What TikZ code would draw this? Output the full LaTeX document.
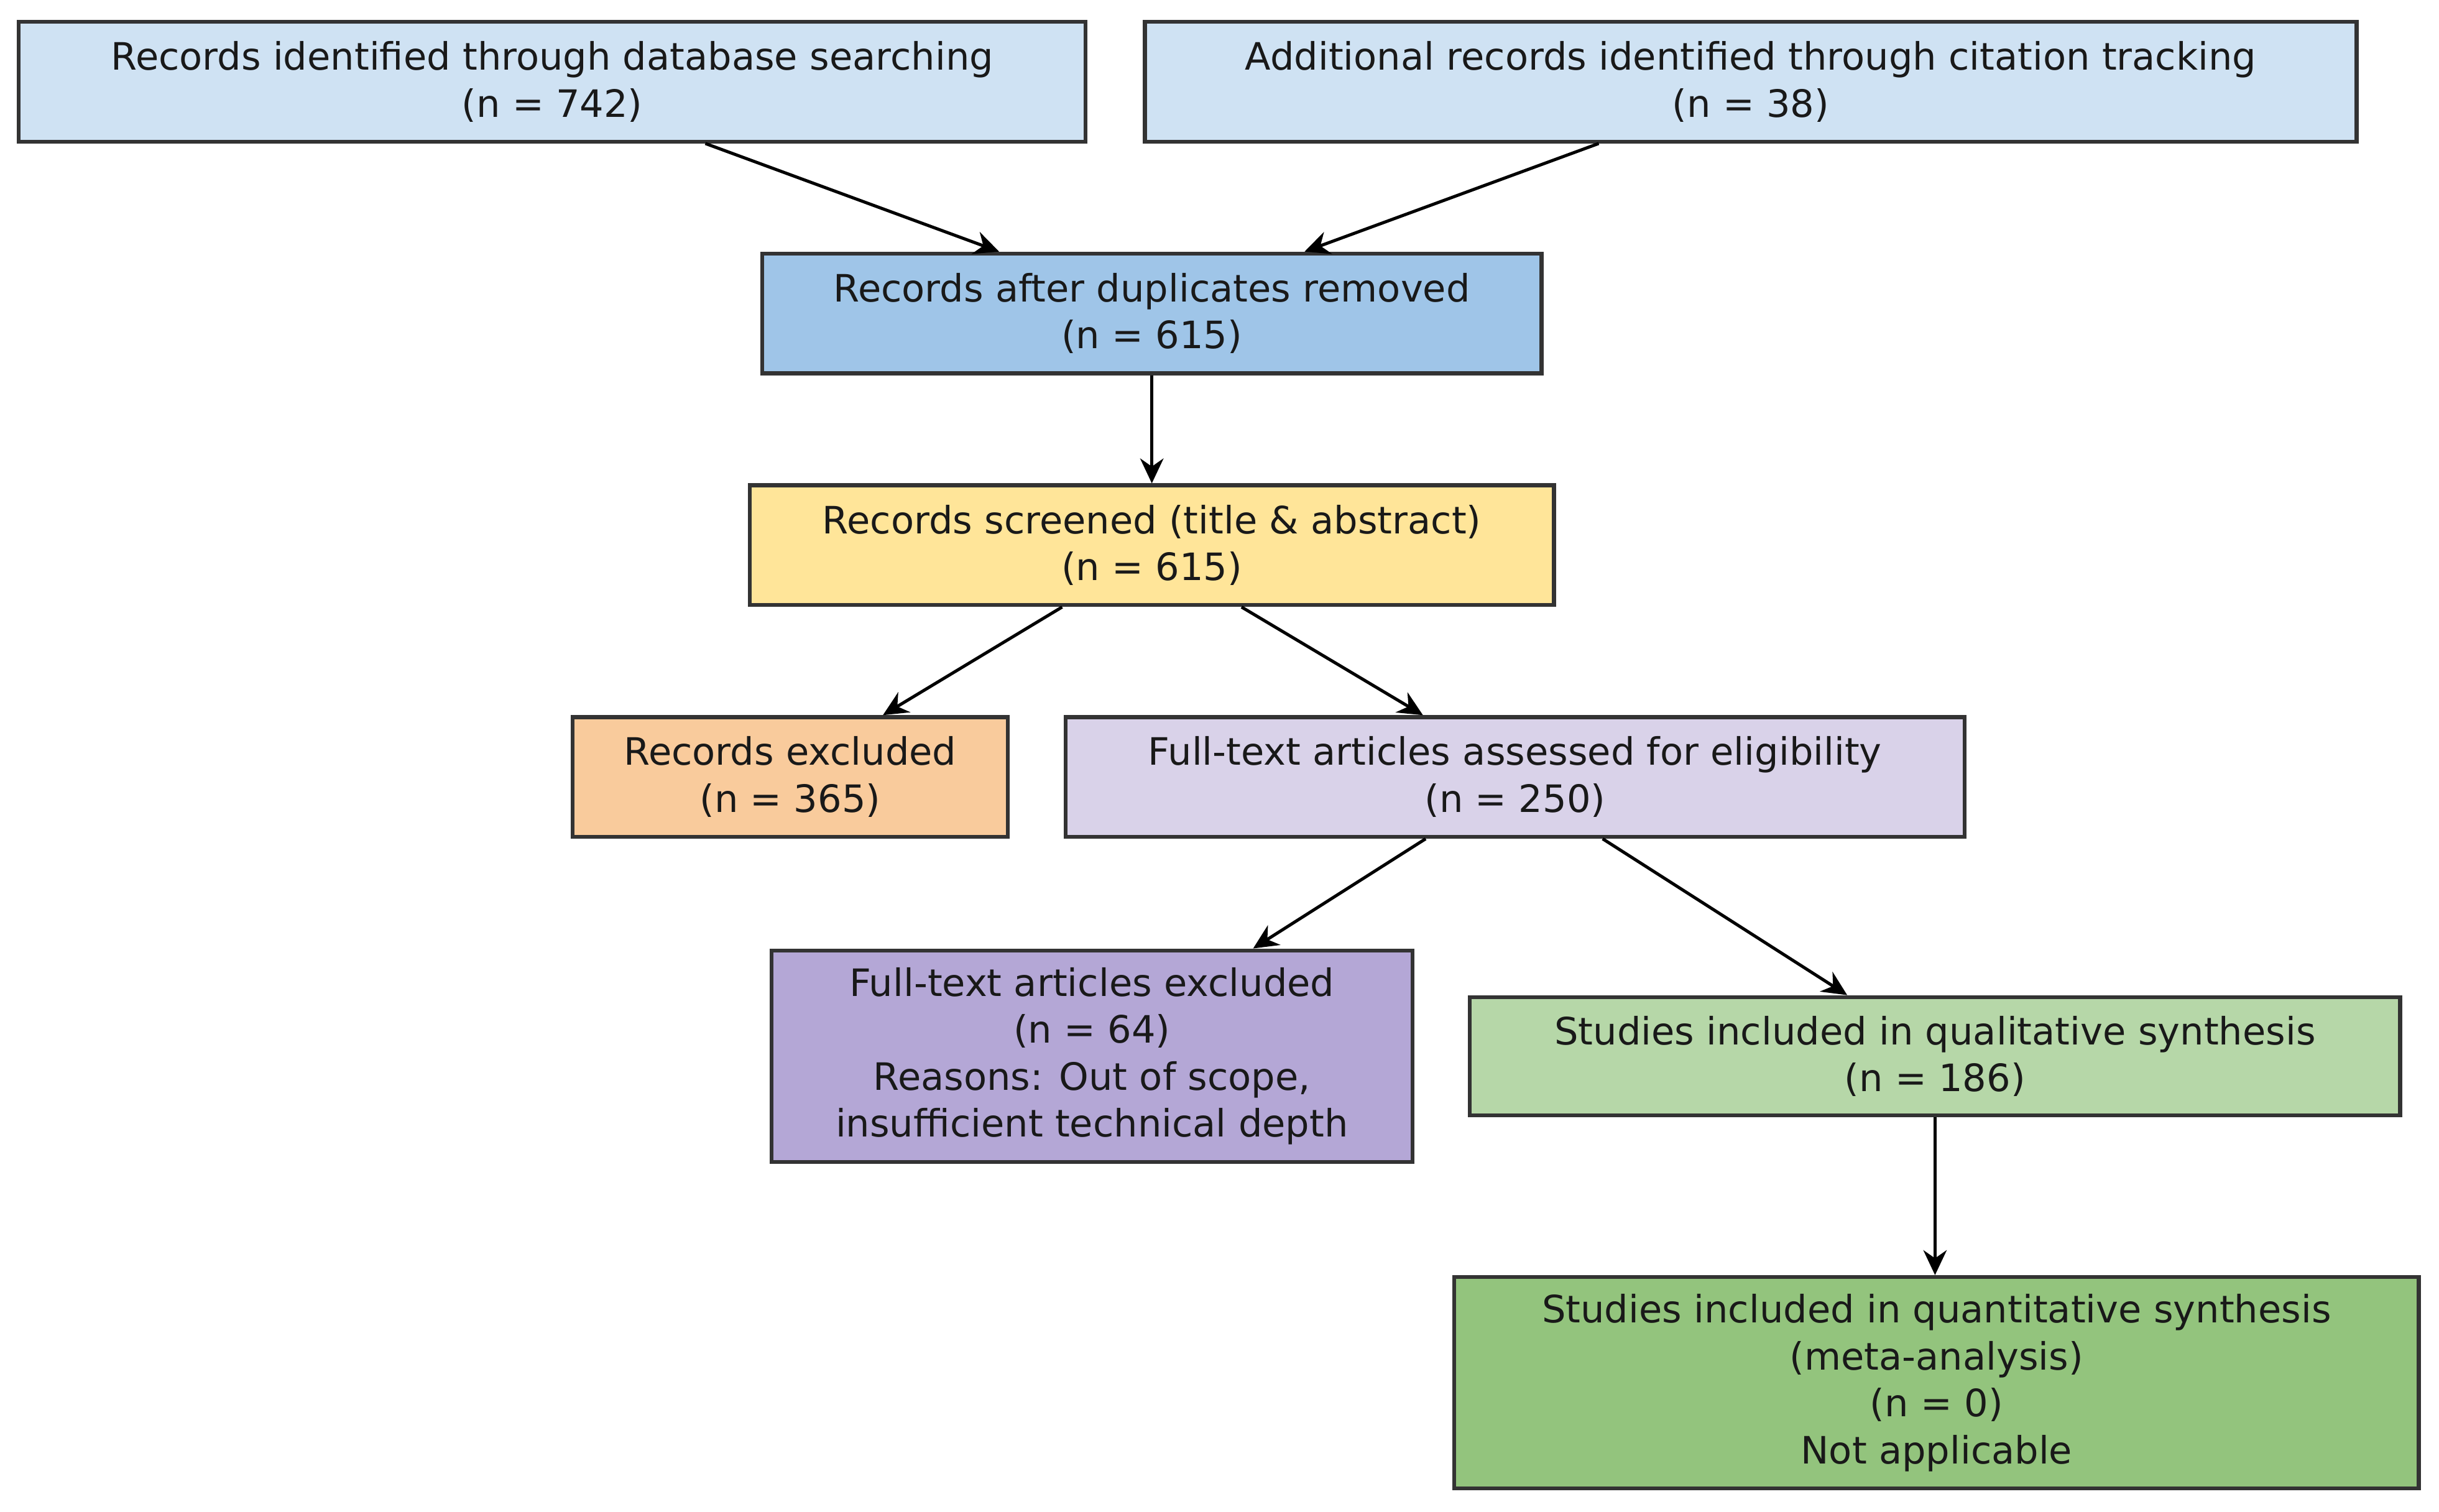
\documentclass[tikz,border=0pt]{standalone}
\usepackage{fontspec}
\setmainfont{DejaVu Sans}
\usetikzlibrary{calc,arrows.meta}
\definecolor{c1}{HTML}{CFE2F3}\definecolor{c3}{HTML}{9FC5E8}\definecolor{c4}{HTML}{FFE599}
\definecolor{c5}{HTML}{F9CB9C}\definecolor{c6}{HTML}{D9D2E9}\definecolor{c7}{HTML}{B4A7D6}
\definecolor{c8}{HTML}{B6D7A8}\definecolor{c9}{HTML}{93C47D}\definecolor{bd}{HTML}{333333}
\begin{document}
\begin{tikzpicture}[x=0.1mm,y=-0.1mm,
 box/.style={draw=bd,line width=0.25mm,inner sep=0pt,align=center,font=\fontsize{6.9}{8.6}\selectfont,text=black!90},
 arr/.style={-{Stealth[length=1.6mm,width=1.5mm]},line width=0.2mm,draw=black}]
\useasboundingbox (0,0) rectangle (1568,972);
\newcommand\bx[7]{\node[box,fill=#6,minimum width={(#3-#2)*0.1mm},minimum height={(#5-#4)*0.1mm}] (#1) at ({(#2+#3)/2},{(#4+#5)/2}) {#7};}
\bx{a}{12}{698}{14}{91}{c1}{Records identified through database searching\\(n = 742)}
\bx{b}{736}{1515}{14}{91}{c1}{Additional records identified through citation tracking\\(n = 38)}
\bx{c}{490}{991}{163}{240}{c3}{Records after duplicates removed\\(n = 615)}
\bx{d}{482}{999}{312}{389}{c4}{Records screened (title \& abstract)\\(n = 615)}
\bx{e}{368}{648}{461}{538}{c5}{Records excluded\\(n = 365)}
\bx{f}{685}{1263}{461}{538}{c6}{Full-text articles assessed for eligibility\\(n = 250)}
\bx{g}{496}{908}{611}{747}{c7}{Full-text articles excluded\\(n = 64)\\Reasons: Out of scope,\\insufficient technical depth}
\bx{h}{945}{1543}{641}{717}{c8}{Studies included in qualitative synthesis\\(n = 186)}
\bx{i}{935}{1555}{821}{957}{c9}{Studies included in quantitative synthesis\\(meta-analysis)\\(n = 0)\\Not applicable}
\draw[arr] ($(a.south west)!0.643!(a.south east)$) -- ($(c.north west)!0.305!(c.north east)$);
\draw[arr] ($(b.south west)!0.375!(b.south east)$) -- ($(c.north west)!0.695!(c.north east)$);
\draw[arr] (c.south) -- (d.north);
\draw[arr] ($(d.south west)!0.389!(d.south east)$) -- ($(e.north west)!0.711!(e.north east)$);
\draw[arr] ($(d.south west)!0.611!(d.south east)$) -- ($(f.north west)!0.398!(f.north east)$);
\draw[arr] ($(f.south west)!0.401!(f.south east)$) -- ($(g.north west)!0.75!(g.north east)$);
\draw[arr] ($(f.south west)!0.597!(f.south east)$) -- ($(h.north west)!0.406!(h.north east)$);
\draw[arr] (h.south) -- (h.south |- i.north);
\end{tikzpicture}
\end{document}
